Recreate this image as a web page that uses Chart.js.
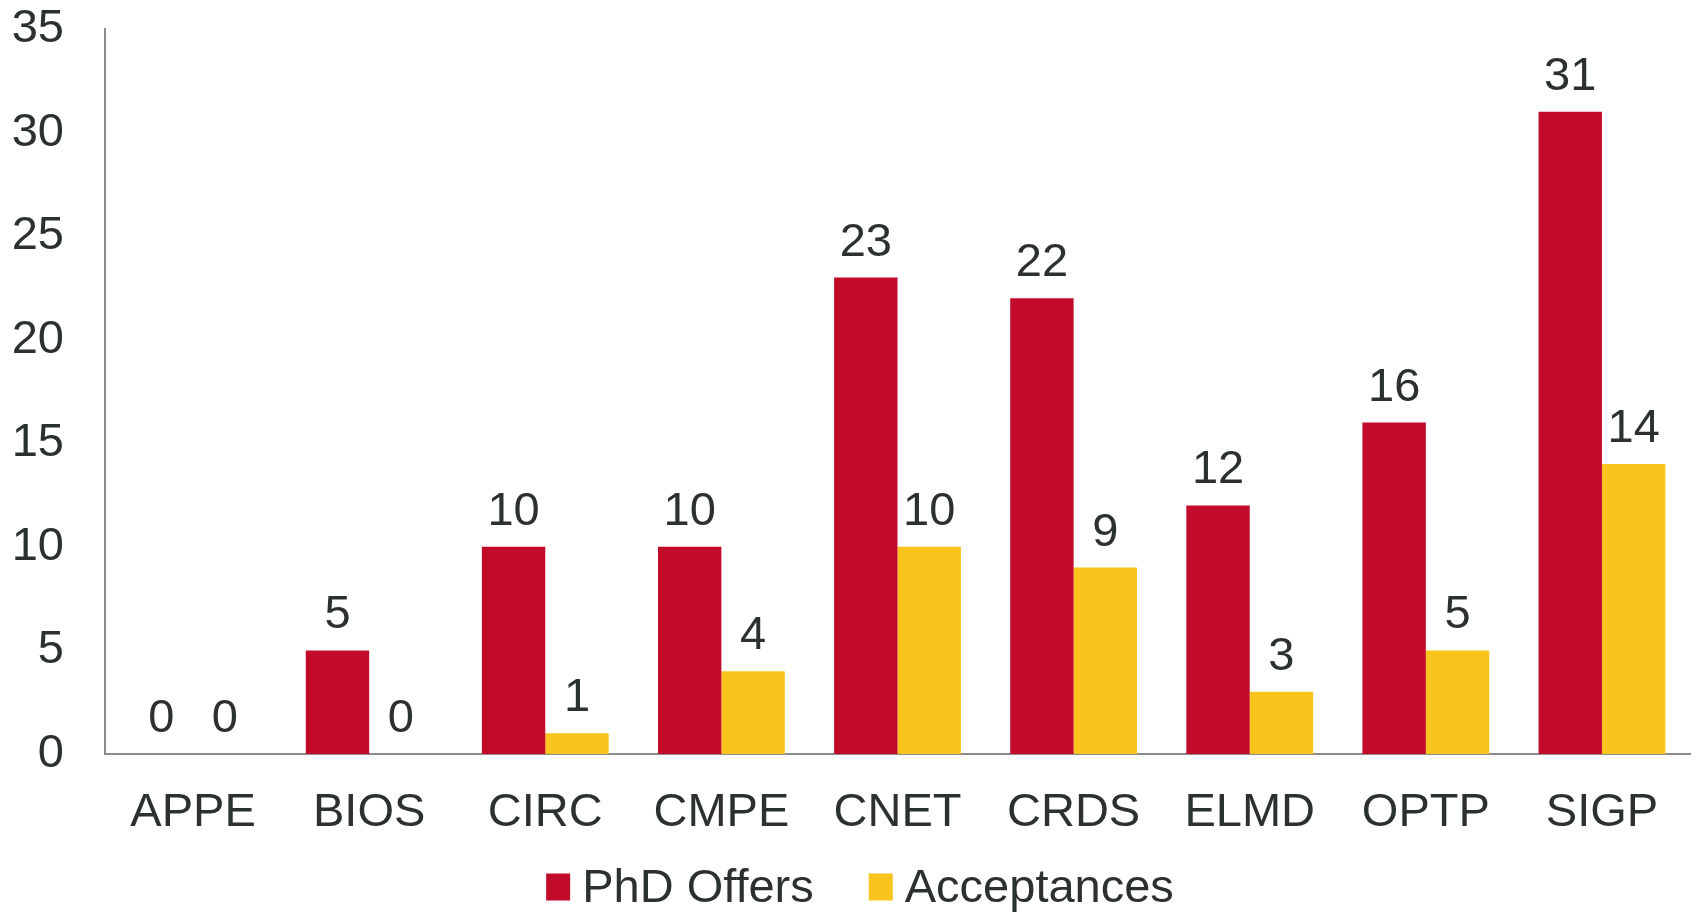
<!DOCTYPE html>
<html>
<head>
<meta charset="utf-8">
<script src="https://cdn.jsdelivr.net/npm/chart.js@4.4.1/dist/chart.umd.min.js"></script>
<style>
  html, body { margin: 0; padding: 0; background: #fff; }
  #wrap { width: 1696px; height: 913px; position: relative; }
</style>
</head>
<body>
<div id="wrap"><canvas id="myBars"></canvas></div>
<script>
// programs and counts
var programs = ['APPE', 'BIOS', 'CIRC', 'CMPE', 'CNET', 'CRDS', 'ELMD', 'OPTP', 'SIGP'];
var phdOffers = [0, 5, 10, 10, 23, 22, 12, 16, 31];
var acceptances = [0, 0, 1, 4, 10, 9, 3, 5, 14];
var yTicks = [0, 5, 10, 15, 20, 25, 30, 35];

var textColor = '#2b3030';
var fontFam = '"Liberation Sans", Arial, sans-serif';

// draws the number above each bar
var valueLabels = {
  id: 'valueLabels',
  afterDatasetsDraw: function(chart) {
    let ctx = chart.ctx;
    ctx.save();
    ctx.font = '47px ' + fontFam;
    ctx.fillStyle = textColor;
    ctx.textAlign = 'center';
    ctx.textBaseline = 'alphabetic';
    chart.data.datasets.forEach((ds, i) => {
      chart.getDatasetMeta(i).data.forEach((bar, j) => {
        ctx.fillText(ds.data[j], bar.x, bar.y - 22);
      });
    });
    ctx.restore();
  }
};

// legend drawn by hand so the box/text gaps match
var bottomLegend = {
  id: 'bottomLegend',
  afterDraw: function(chart) {
    let ctx = chart.ctx;
    let box = 24, boxH = 27, gap = 12, itemGap = 55;
    ctx.save();
    ctx.font = '47px ' + fontFam;
    ctx.textBaseline = 'middle';
    ctx.textAlign = 'left';
    let sets = chart.data.datasets;
    let total = 0;
    sets.forEach((ds, i) => {
      total += box + gap + ctx.measureText(ds.label).width + (i < sets.length - 1 ? itemGap : 0);
    });
    let x = chart.width / 2 + 12 - total / 2;
    let y = 887;
    sets.forEach((ds) => {
      ctx.fillStyle = ds.backgroundColor;
      ctx.fillRect(x, y - boxH / 2, box, boxH);
      x += box + gap;
      ctx.fillStyle = textColor;
      ctx.fillText(ds.label, x, y + 2);
      x += ctx.measureText(ds.label).width + itemGap;
    });
    ctx.restore();
  }
};

new Chart(document.getElementById('myBars'), {
  type: 'bar',
  data: {
    labels: programs,
    datasets: [
      {
        label: 'PhD Offers',
        backgroundColor: '#c20a2a',
        data: phdOffers,
        categoryPercentage: 0.72,
        barPercentage: 1.0
      },
      {
        label: 'Acceptances',
        backgroundColor: '#f9c41b',
        data: acceptances,
        categoryPercentage: 0.72,
        barPercentage: 1.0
      }
    ]
  },
  options: {
    responsive: true,
    maintainAspectRatio: false,
    animation: false,
    layout: { padding: { top: 29, right: 6, left: 0, bottom: 75 } },
    scales: {
      x: {
        grid: { display: false },
        border: { color: '#8c8c8c', width: 2 },
        ticks: { color: textColor, font: { size: 47, family: fontFam }, padding: 23 },
        afterFit: function(scale) {
          scale.height = 84;
          scale.paddingLeft = 0;
          scale.paddingRight = 0;
        }
      },
      y: {
        min: 0,
        max: 35,
        afterBuildTicks: function(scale) { scale.ticks = yTicks.map(v => ({ value: v })); },
        grid: { display: false },
        border: { color: '#8c8c8c', width: 2 },
        ticks: { color: textColor, font: { size: 47, family: fontFam }, padding: 33 },
        afterFit: function(scale) {
          scale.width = 105;
          scale.paddingTop = 0;
          scale.paddingBottom = 0;
        }
      }
    },
    plugins: {
      tooltip: { enabled: false },
      legend: { display: false }
    }
  },
  plugins: [valueLabels, bottomLegend]
});
</script>
</body>
</html>
